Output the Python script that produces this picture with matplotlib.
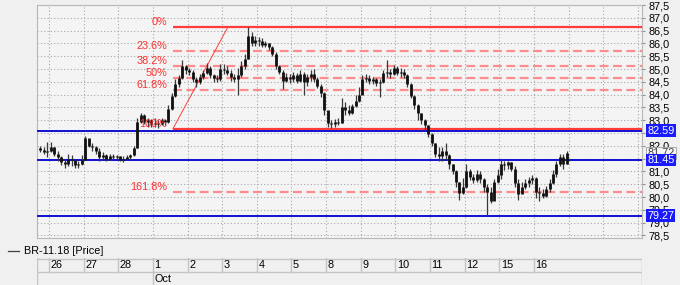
import matplotlib
matplotlib.use('Agg')
import matplotlib.pyplot as plt
from matplotlib.lines import Line2D
import numpy as np

plt.rcParams['font.family'] = ['Liberation Sans', 'DejaVu Sans']

# ---------------- data ----------------
day_labels = ['26', '27', '28', '1', '2', '3', '4', '5', '8', '9', '10', '11', '12', '15', '16']
month_label = 'Oct'
month_day_index = 3          # "1" is the first day of Oct
bars_per_day = 10
lead_bars = 3                # bars of the partial first day (25th)
open_first = 81.9

close = [81.85, 81.75, 81.80,
         81.95, 81.70, 81.55, 81.35, 81.30, 81.50, 81.45, 81.25, 81.30, 81.45,
         82.30, 82.00, 81.95, 81.80, 81.55, 81.65, 81.50, 81.60, 81.55, 81.60,
         81.45, 81.50, 81.55, 81.65, 81.90, 82.95, 83.20, 82.95, 83.00, 82.85,
         82.90, 82.85, 83.00, 82.95, 83.45, 83.95, 84.40, 84.65, 85.10, 84.95,
         84.90, 84.60, 84.50, 84.70, 84.85, 85.05, 84.75, 84.65, 84.60, 85.00,
         84.95, 84.85, 84.70, 84.60, 84.75, 85.10, 85.40, 86.30, 86.00, 86.15,
         86.10, 85.95, 86.00, 85.85, 85.60, 85.10, 84.90, 84.55, 84.70, 84.60,
         84.75, 84.55, 84.80, 84.50, 84.70, 84.80, 84.60, 84.35, 84.05, 83.40,
         82.90, 82.85, 82.95, 82.90, 83.50, 83.40, 83.30, 83.55, 83.75, 84.00,
         84.60, 84.65, 84.55, 84.60, 84.45, 84.50, 84.85, 84.90, 84.80, 85.05,
         84.85, 84.90, 84.75, 84.40, 83.95, 83.60, 83.30, 83.00, 82.80, 82.45,
         82.10, 81.70, 81.60, 81.80, 81.65, 81.30, 81.00, 80.60, 80.15, 80.40,
         81.00, 80.80, 80.65, 80.90, 80.70, 80.40, 80.20, 79.85, 80.60, 80.85,
         81.30, 81.25, 81.35, 81.10, 80.55, 80.10, 80.40, 80.55, 80.65, 80.75,
         80.20, 80.15, 80.05, 80.30, 80.55, 80.90, 81.30, 81.55, 81.30, 81.72]

high = [82.00, 81.95, 82.15,
        82.15, 81.95, 81.80, 81.60, 81.45, 81.70, 81.65, 81.50, 81.40, 81.65,
        82.40, 82.25, 82.10, 82.00, 81.90, 81.75, 81.70, 81.70, 81.70, 81.65,
        81.60, 81.60, 81.65, 81.70, 82.00, 83.10, 83.30, 83.25, 83.10, 83.05,
        83.10, 83.00, 83.10, 83.05, 83.60, 84.05, 84.60, 84.75, 85.35, 85.15,
        85.05, 84.95, 84.70, 84.80, 84.95, 85.25, 85.10, 84.80, 84.75, 85.20,
        85.20, 85.10, 84.95, 84.80, 85.05, 85.30, 85.60, 86.65, 86.45, 86.30,
        86.25, 86.20, 86.10, 86.00, 85.90, 85.65, 85.15, 84.95, 84.85, 84.80,
        84.90, 84.85, 84.95, 84.90, 84.80, 84.95, 85.00, 84.70, 84.40, 84.10,
        83.30, 83.00, 83.05, 83.10, 83.85, 83.70, 83.60, 83.65, 84.00, 84.30,
        84.75, 84.80, 84.75, 84.70, 84.65, 84.60, 84.95, 85.35, 85.00, 85.15,
        85.10, 85.05, 85.00, 84.80, 84.45, 84.00, 83.65, 83.30, 83.05, 82.80,
        82.50, 82.10, 81.95, 81.95, 82.10, 81.70, 81.30, 81.05, 80.60, 80.75,
        81.30, 81.10, 80.90, 81.05, 81.00, 80.75, 80.50, 80.40, 80.70, 81.10,
        81.45, 81.40, 81.40, 81.35, 81.20, 80.70, 80.60, 80.70, 80.80, 80.85,
        80.80, 80.40, 80.30, 80.45, 80.70, 81.05, 81.40, 81.70, 81.70, 81.78]

low = [81.75, 81.70, 81.55,
       81.75, 81.60, 81.40, 81.25, 81.15, 81.20, 81.20, 81.15, 81.15, 81.25,
       81.45, 81.95, 81.80, 81.70, 81.40, 81.45, 81.40, 81.45, 81.50, 81.50,
       81.40, 81.35, 81.45, 81.50, 81.60, 81.90, 82.90, 82.85, 82.75, 82.75,
       82.75, 82.70, 82.80, 82.80, 82.90, 83.40, 83.90, 84.30, 84.60, 84.80,
       84.75, 84.50, 84.30, 84.40, 84.60, 84.80, 84.65, 84.50, 84.50, 84.55,
       84.80, 84.75, 84.55, 84.50, 84.00, 84.70, 85.00, 85.40, 85.90, 85.90,
       85.90, 85.85, 85.85, 85.75, 85.50, 85.00, 84.80, 84.20, 84.50, 84.45,
       84.50, 84.45, 84.50, 84.00, 84.35, 84.55, 84.50, 84.25, 83.90, 83.20,
       82.75, 82.70, 82.75, 82.80, 82.90, 83.20, 83.20, 83.25, 83.50, 83.70,
       84.10, 84.50, 84.40, 84.40, 84.35, 83.90, 84.45, 84.70, 84.65, 84.75,
       84.75, 84.70, 84.65, 84.30, 83.85, 83.45, 83.00, 82.85, 82.60, 82.35,
       82.00, 81.55, 81.40, 81.40, 81.50, 81.10, 80.90, 80.40, 79.90, 80.10,
       80.35, 80.65, 80.55, 80.60, 80.55, 80.20, 79.30, 79.75, 79.90, 80.55,
       80.70, 81.05, 81.10, 81.00, 80.40, 79.90, 80.20, 80.30, 80.40, 80.50,
       79.95, 79.85, 79.95, 80.00, 80.20, 80.50, 80.80, 81.20, 81.10, 81.30]

# Fibonacci tool anchors (bar position, price)
fib_start_bar = 38.3
fib_end_bar = 54.2
fib_high = 86.65
fib_low = 82.67
fib_ratios = [0.0, 0.236, 0.382, 0.5, 0.618, 1.0, 1.618]
fib_labels = ['0%', '23.6%', '38.2%', '50%', '61.8%', '100%', '161.8%']

level_lines = [82.59, 81.45, 79.27]
last_price = 81.72
y_ticks = [78.5 + 0.5 * i for i in range(19)]
hidden_tick_labels = [82.5, 81.5]   # covered by the price boxes in the reference

# ---------------- figure ----------------
W, H = 680, 285
fig = plt.figure(figsize=(W / 100, H / 100), dpi=100, facecolor='#f0f0f0')

def fx(px):
    return px / W

def fy(py):
    return 1 - py / H

ax = fig.add_axes([fx(37), fy(238), fx(642) - fx(37), fy(5) - fy(238)])
ax.set_facecolor('#f4f4f4')

n = len(close)
x = np.arange(n)
opens = [open_first] + close[:-1]

day_bounds = [lead_bars - 0.5 + bars_per_day * k for k in range(len(day_labels) + 3)]
x_left = lead_bars - 0.5 - 3.46
x_right = lead_bars - 0.5 + bars_per_day * 17.12

ax.set_xlim(x_left, x_right)
ax.set_ylim(78.4, 87.5)

# grid
grid_kw = dict(color='#a8a8a8', lw=0.8, linestyle=(0, (1, 2)), zorder=1)
for b in day_bounds:
    if x_left < b < x_right:
        ax.axvline(b, **grid_kw)
for t in y_ticks:
    ax.axhline(t, **grid_kw)

# candles
ax.vlines(x, low, high, color='#3a3a3a', lw=0.9, zorder=4)
body_lo = np.minimum(opens, close)
body_hi = np.maximum(opens, close)
body_hi = np.maximum(body_hi, body_lo + 0.03)
ax.vlines(x, body_lo, body_hi, color='#101010', lw=2.0, zorder=5)

# fib retracement
rng = fib_high - fib_low
for r, lab in zip(fib_ratios, fib_labels):
    lvl = fib_high - r * rng
    if r in (0.0, 1.0):
        ax.hlines(lvl, fib_start_bar, x_right, color='#ff3b3b', lw=1.6, zorder=3)
    else:
        ax.hlines(lvl, fib_start_bar, x_right, color='#ff8c8c', lw=1.6,
                  linestyle=(0, (4, 2)), zorder=3)
    ax.annotate(lab, xy=(fib_start_bar, lvl), xytext=(-6, 2),
                textcoords='offset pixels', ha='right', va='baseline',
                color='#ff3030', fontsize=7.8, zorder=6)
ax.plot([fib_start_bar, fib_end_bar], [fib_low, fib_high], color='#ff4040',
        lw=0.7, zorder=3)

# horizontal level lines
for lv in level_lines:
    ax.axhline(lv, color='#1010d0', lw=1.4, zorder=3)

# right axis
ax.yaxis.tick_right()
ax.set_yticks(y_ticks)
ax.set_yticklabels(['' if t in hidden_tick_labels else f'{t:.1f}'.replace('.', ',')
                    for t in y_ticks])
ax.tick_params(axis='y', length=2.5, pad=2, labelsize=7.8, colors='#000000',
               color='#909090')
ax.set_xticks([])
for s in ax.spines.values():
    s.set_color('#b8b8b8')
    s.set_linewidth(0.8)

# price boxes
ax.annotate(f'{last_price:.2f}', xy=(1, last_price), xycoords=('axes fraction', 'data'),
            xytext=(5, 0), textcoords='offset pixels', ha='left', va='center',
            fontsize=7.8, color='#404040', annotation_clip=False, zorder=7,
            bbox=dict(boxstyle='square,pad=0.12', fc='#f4f4f4', ec='#a0a0a0', lw=0.6))
for lv in level_lines:
    ax.annotate(f'{lv:.2f}', xy=(1, lv), xycoords=('axes fraction', 'data'),
                xytext=(5, 0), textcoords='offset pixels', ha='left', va='center',
                fontsize=7.8, color='white', annotation_clip=False, zorder=8,
                bbox=dict(boxstyle='square,pad=0.12', fc='#1a1aff', ec='none'))

# legend
fig.add_artist(Line2D([fx(8), fx(19)], [fy(251), fy(251)], color='#404040', lw=0.9))
fig.text(fx(24), fy(251), 'BR-11.18 [Price]', fontsize=7.8, va='center', ha='left')

# date strip
ax2 = fig.add_axes([fx(37), 0, fx(642) - fx(37), fy(258)])
ax2.set_xlim(x_left, x_right)
ax2.set_ylim(0, 27)
ax2.set_facecolor('#f0f0f0')
ax2.axis('off')
sc = '#c4c4c4'
ax2.axhline(26.5, color=sc, lw=1.0)
ax2.axhline(13.5, color=sc, lw=1.0)
ax2.axvline(x_left + 0.1, color=sc, lw=1.0)
ax2.axvline(x_right - 0.1, color=sc, lw=1.0)
for k, lab in enumerate(day_labels):
    b = day_bounds[k]
    ax2.plot([b, b], [13.5, 27], color=sc, lw=1.0)
    ax2.text(b + 0.45, 20, lab, fontsize=7.8, ha='left', va='center')
mb = day_bounds[month_day_index]
ax2.plot([mb, mb], [0, 13.5], color=sc, lw=1.0)
ax2.text(mb + 0.45, 6.5, month_label, fontsize=7.8, ha='left', va='center')

fig.savefig('out.png', dpi=100, facecolor=fig.get_facecolor())
